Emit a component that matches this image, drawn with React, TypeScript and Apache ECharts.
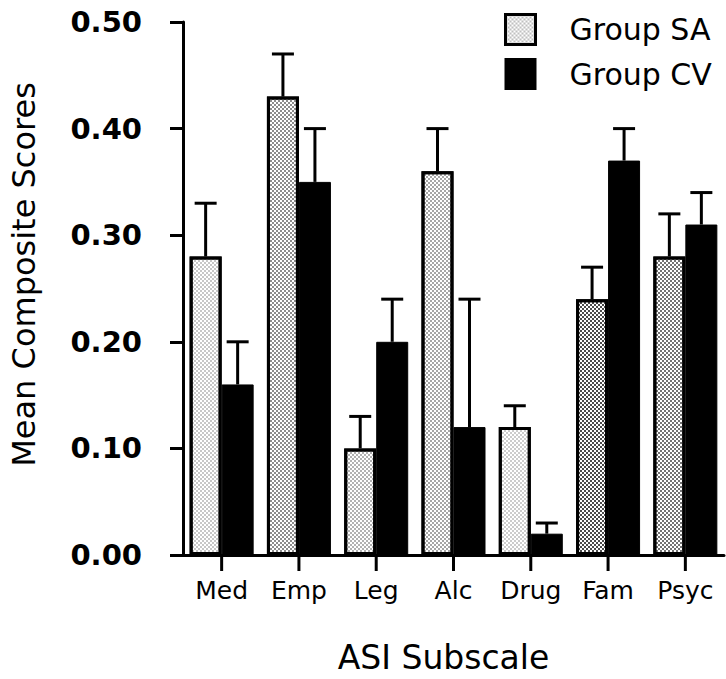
import React, { useEffect, useRef } from "react";
import * as echarts from "echarts";

const categories = ["Med", "Emp", "Leg", "Alc", "Drug", "Fam", "Psyc"];
const saMeans = [0.28, 0.43, 0.10, 0.36, 0.12, 0.24, 0.28];
const saUpper = [0.33, 0.47, 0.13, 0.40, 0.14, 0.27, 0.32];
const cvMeans = [0.16, 0.35, 0.20, 0.12, 0.02, 0.37, 0.31];
const cvUpper = [0.20, 0.40, 0.24, 0.24, 0.03, 0.40, 0.34];
const yTicks = [0, 0.1, 0.2, 0.3, 0.4, 0.5];

// stipple density for the SA bars (style only)
const saStipple = [0.22, 0.45, 0.3, 0.35, 0.2, 0.7, 0.55];

const FONT = "DejaVu Sans, Liberation Sans, Arial, sans-serif";
const BAR_W = 32;

const stipple = (alpha: number) => ({
  symbol: "rect",
  symbolSize: 1,
  color: `rgba(0,0,0,${alpha})`,
  dashArrayX: [[2, 2], [0, 2, 2, 0]],
  dashArrayY: [2, 0],
  rotation: 0,
});

export default function App() {
  const ref = useRef<HTMLDivElement>(null);
  useEffect(() => {
    if (!ref.current) return;
    const chart = echarts.init(ref.current, undefined, { renderer: "svg" });
    const errData: any[] = [];
    categories.forEach((_, i) => {
      errData.push([i, saMeans[i], saUpper[i], -1]);
      errData.push([i, cvMeans[i], cvUpper[i], 1]);
    });
    chart.setOption({
      animation: false,
      backgroundColor: "#fff",
      grid: { left: 175, right: 2, top: 22, bottom: 122, containLabel: false },
      legend: {
        orient: "vertical",
        left: 499,
        top: 8,
        icon: "rect",
        itemWidth: 30,
        itemHeight: 30,
        itemGap: 12,
        data: [
          {
            name: "Group SA",
            itemStyle: { color: "#fff", borderColor: "#000", borderWidth: 3, decal: stipple(0.25) },
          },
          { name: "Group CV", itemStyle: { color: "#000" } },
        ],
        textStyle: { fontFamily: FONT, fontSize: 30, color: "#000", padding: [0, 0, 0, 29] },
      },
      xAxis: {
        type: "category",
        data: categories,
        boundaryGap: true,
        name: "ASI Subscale",
        nameLocation: "middle",
        nameGap: 86,
        nameTextStyle: { fontFamily: FONT, fontSize: 33, color: "#000", padding: [0, 20, 0, 0] },
        axisLine: { show: true, lineStyle: { color: "#000", width: 3 } },
        axisTick: { show: false },
        axisLabel: {
          fontFamily: FONT,
          fontSize: 25,
          color: "#000",
          margin: 23,
          interval: 0,
          hideOverlap: false,
        },
      },
      yAxis: {
        type: "value",
        min: yTicks[0],
        max: yTicks[yTicks.length - 1],
        interval: 0.1,
        name: "Mean Composite Scores",
        nameLocation: "middle",
        nameGap: 143,
        nameTextStyle: { fontFamily: FONT, fontSize: 32, color: "#000", padding: [0, 0, 0, 28] },
        axisLine: { show: true, lineStyle: { color: "#000", width: 3 } },
        axisTick: { show: true, length: 13, lineStyle: { color: "#000", width: 3 } },
        splitLine: { show: false },
        axisLabel: {
          fontFamily: FONT,
          fontSize: 29,
          fontWeight: "bold",
          color: "#000",
          margin: 41,
          formatter: (v: number) => v.toFixed(2),
        },
      },
      series: [
        {
          name: "Group SA",
          type: "bar",
          barWidth: BAR_W,
          barGap: "0%",
          data: saMeans.map((v, i) => ({
            value: v,
            itemStyle: {
              color: "#fff",
              borderColor: "#000",
              borderWidth: 3,
              decal: stipple(saStipple[i]),
            },
          })),
          z: 2,
        },
        {
          name: "Group CV",
          type: "bar",
          barWidth: BAR_W,
          barGap: "0%",
          itemStyle: { color: "#000", borderColor: "#000", borderWidth: 1 },
          data: cvMeans,
          z: 2,
        },
        {
          type: "custom",
          name: "err",
          data: errData,
          z: 3,
          renderItem: (params: any, api: any) => {
            const idx = api.value(0);
            const side = api.value(3);
            const lo = api.coord([idx, api.value(1)]);
            const hi = api.coord([idx, api.value(2)]);
            const x = lo[0] + side * (BAR_W / 2);
            const cap = 11;
            const style = { stroke: "#000", lineWidth: 3 };
            return {
              type: "group",
              children: [
                { type: "line", shape: { x1: x, y1: lo[1], x2: x, y2: hi[1] }, style },
                { type: "line", shape: { x1: x - cap, y1: hi[1], x2: x + cap, y2: hi[1] }, style },
              ],
            };
          },
        },
      ],
    });
    // x-axis tick marks at each category centre, placed through the chart's own scale
    const tickMarks = categories.map((c) => {
      const p = chart.convertToPixel({ gridIndex: 0 }, [c, 0]) as number[];
      return {
        type: "rect",
        z: 100,
        silent: true,
        shape: { x: p[0] - 1.5, y: p[1], width: 3, height: 16 },
        style: { fill: "#000" },
      };
    });
    chart.setOption({ graphic: { elements: tickMarks } });
    return () => chart.dispose();
  }, []);
  return (
    <div
      ref={ref}
      style={{ position: "absolute", left: 0, top: 0, width: 726, height: 679 }}
    />
  );
}
